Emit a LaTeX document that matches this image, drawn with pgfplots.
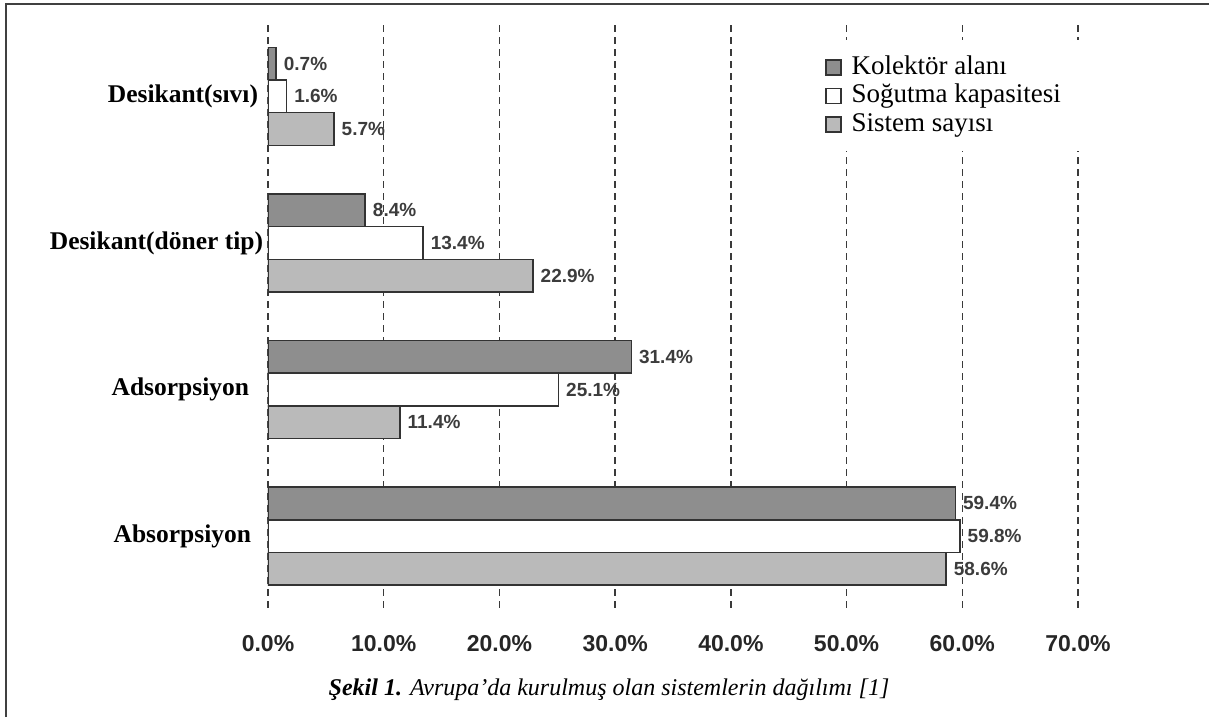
\documentclass[border=0pt]{standalone}
\usepackage{fontspec}
\setmainfont{Liberation Serif}
\setsansfont{Liberation Sans}
\usepackage{pgfplots}
\pgfplotsset{compat=1.18}
\definecolor{darkbar}{HTML}{8E8E8E}
\definecolor{lightbar}{HTML}{BABABA}
\definecolor{edge}{HTML}{333333}
\definecolor{gridc}{HTML}{3A3A3A}
\definecolor{labc}{HTML}{3C3C3C}
\newcommand{\lf}{\fontsize{13.5}{15}\selectfont}
\begin{document}
\begin{tikzpicture}
\useasboundingbox (0,0) rectangle (604.5pt,358.5pt);
\draw[color=black!75, line width=1pt] (3pt,0) -- (3pt,356.5pt) -- (604.5pt,356.5pt);
\begin{axis}[
  at={(134pt,54.5pt)}, anchor=south west,
  scale only axis, width=405pt, height=292.5pt,
  xmin=0, xmax=70, ymin=-0.49, ymax=3.5,
  xbar, bar width=16.35pt,
  axis line style={draw=none},
  major tick style={draw=none},
  xtick={0,10,...,70},
  xmajorgrids,
  major grid style={gridc, line width=0.7pt, dash pattern=on 3.5pt off 2.5pt},
  /pgf/number format/assume math mode=true,
  xticklabel={\pgfmathprintnumber[fixed,fixed zerofill,precision=1]{\tick}\%},
  xticklabel style={font=\sffamily\bfseries\fontsize{11.5}{13}\selectfont, text=black!85, anchor=base, yshift=-21.75pt, inner sep=0pt},
  ytick={0,1,2,3},
  yticklabels={Absorpsiyon\hspace*{-1pt}, Adsorpsiyon, Desikant(döner tip)\hspace*{-7pt}, Desikant(sıvı)\hspace*{-4.5pt}},
  yticklabel style={font=\bfseries\fontsize{12.75}{14}\selectfont, anchor=east, inner sep=0pt, xshift=-5pt},
  point meta=x,
  nodes near coords={\pgfmathprintnumber[fixed,fixed zerofill,precision=1]{\pgfplotspointmeta}\%},
  every node near coord/.append style={font=\sffamily\bfseries\fontsize{9.5}{11}\selectfont, text=labc, anchor=west, inner sep=0pt, xshift=3.5pt},
  legend cell align=left,
  legend image code/.code={\draw[#1, line width=0.6pt] (0pt,-3.75pt) rectangle (7.5pt,3.75pt);},
  legend style={at={(0.663,0.9709)}, anchor=north west, draw=none, fill=white,
    inner xsep=10pt, inner ysep=7pt, row sep=1.25pt,
    nodes={inner sep=0pt, text height=10pt, text depth=3pt},
    /tikz/every odd column/.append style={column sep=5pt}},
]
\addplot[draw=edge, line width=0.75pt, fill=darkbar, bar shift=16.35pt] coordinates {(59.4,0) (31.4,1) (8.4,2) (0.7,3)};
\addplot[draw=edge, line width=0.75pt, fill=white, bar shift=0pt] coordinates {(59.8,0) (25.1,1) (13.4,2) (1.6,3)};
\addplot[draw=edge, line width=0.75pt, fill=lightbar, bar shift=-16.35pt] coordinates {(58.6,0) (11.4,1) (22.9,2) (5.7,3)};
\legend{\lf Kolektör alanı, \lf Soğutma kapasitesi, \lf Sistem sayısı}
\end{axis}
\node[anchor=base, font=\fontsize{12}{14}\selectfont\itshape] at (304.5pt,11pt) {\textbf{Şekil 1.} Avrupa’da kurulmuş olan sistemlerin dağılımı [1]};
\end{tikzpicture}
\end{document}
